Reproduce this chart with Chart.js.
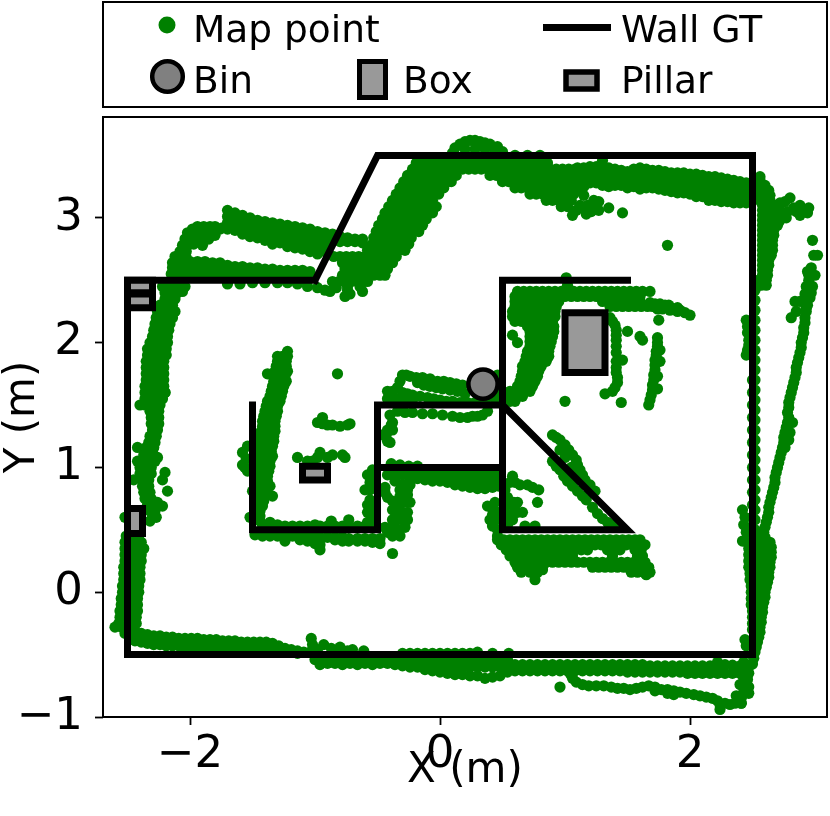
<!DOCTYPE html>
<html>
<head>
<meta charset="utf-8">
<style>html,body{margin:0;padding:0;background:#fff}canvas{display:block}</style>
<script src="https://cdn.jsdelivr.net/npm/chart.js@4/dist/chart.umd.min.js"></script>
</head>
<body>
<canvas id="c" width="830" height="816"></canvas>
<script>
// ---- Tick labels and axis titles
const xTicks = [-2, 0, 2];
const yTicks = [-1, 0, 1, 2, 3];
const xTitle = 'X (m)';
const yTitle = 'Y (m)';

// ---- Ground-truth geometry (metres)
const wallOuter = [[-1,2.5],[-0.5,3.5],[2.5,3.5],[2.5,-0.5],[-2.5,-0.5],[-2.5,2.5],[-1,2.5]];
const wallInner = [[-1.5,1.5],[-1.5,0.5],[-0.5,0.5],[-0.5,1.5],[0.5,1.5]];
const wallBar = [[-0.5,1],[0.5,1]];
const wallRoom = [[1.5,2.5],[0.5,2.5],[0.5,0.5],[1.5,0.5],[0.5,1.5]];
const binCentre = [[0.344,1.668]];
const boxShape = [[1,1.76],[1.32,1.76],[1.32,2.24],[1,2.24],[1,1.76]];
const pillarA = [[-2.5,2.4],[-2.3,2.4],[-2.3,2.5],[-2.5,2.5],[-2.5,2.4]];
const pillarB = [[-2.5,2.28],[-2.3,2.28],[-2.3,2.39],[-2.5,2.39],[-2.5,2.28]];
const pillarC = [[-2.5,0.47],[-2.38,0.47],[-2.38,0.67],[-2.5,0.67],[-2.5,0.47]];
const pillarD = [[-1.1,0.9],[-0.9,0.9],[-0.9,1.01],[-1.1,1.01],[-1.1,0.9]];

// ---- Map points.
// rows are [y, x, x, ...]; cols are [x, y, y, ...]; spots are [x, y].
const rowsLeftUpper = [
[2.45,-2.22,-2.17,-2.12,-2.07,-2.04],[2.4,-2.2,-2.15,-2.1],[2.35,-2.2,-2.16,-2.12],[2.3,-2.24,-2.19,-2.14],[2.25,-2.26,-2.21,-2.16,-2.12],
[2.2,-2.27,-2.22,-2.17,-2.14],[2.15,-2.28,-2.23,-2.18,-2.16],[2.1,-2.29,-2.24,-2.19,-2.17],[2.05,-2.3,-2.25,-2.2,-2.18],[2,-2.32,-2.27,-2.22,-2.18],
[1.95,-2.34,-2.29,-2.24,-2.19],[1.9,-2.34,-2.29,-2.24,-2.19],[1.85,-2.35,-2.3,-2.25,-2.21],[1.8,-2.35,-2.3,-2.25,-2.21],[1.75,-2.35,-2.3,-2.25,-2.21],
[1.7,-2.35,-2.3,-2.25,-2.21],[1.65,-2.36,-2.31,-2.26,-2.21],[1.6,-2.36,-2.31,-2.26,-2.2],[1.55,-2.36,-2.31,-2.26,-2.22],[1.5,-2.4,-2.36,-2.31,-2.26,-2.24],
[1.45,-2.32,-2.28,-2.25],[1.4,-2.31,-2.28,-2.25],[1.35,-2.31,-2.25],[1.3,-2.3,-2.26],[1.25,-2.32,-2.27],[1.2,-2.33,-2.28],[1.16,-2.42,-2.35,-2.29],
[1.1,-2.37,-2.33,-2.29],[1.05,-2.42,-2.38,-2.33,-2.28],[1,-2.4,-2.36,-2.31],[0.95,-2.4,-2.36,-2.31],[0.9,-2.45,-2.38,-2.33],[0.85,-2.38,-2.33],
[0.8,-2.37,-2.32],[0.75,-2.36,-2.31],[0.7,-2.34,-2.29],[0.65,-2.32,-2.28],[0.6,-2.3,-2.27]];
const spotsLeftUpper = [[-2.2,1.6],[-2.26,1.08],[-2.2,0.96],[-2.22,0.9],[-2.18,0.81],[-2.22,0.69],[-2.26,0.72],[-2.32,0.57],[-2.52,0.6]];
const rowsLeftLower = [
[0.45,-2.51,-2.46,-2.41],[0.4,-2.52,-2.46,-2.39],[0.35,-2.52,-2.46,-2.41,-2.37],[0.3,-2.52,-2.46,-2.39],[0.25,-2.52,-2.46,-2.39],[0.2,-2.53,-2.46,-2.4],
[0.15,-2.53,-2.46,-2.4],[0.1,-2.53,-2.46,-2.4],[0.05,-2.54,-2.47,-2.41],[0,-2.54,-2.47,-2.41],[-0.05,-2.55,-2.47,-2.42],[-0.1,-2.55,-2.47,-2.42],
[-0.15,-2.56,-2.47,-2.42],[-0.2,-2.56,-2.47,-2.43],[-0.25,-2.57,-2.47,-2.43],[-0.28,-2.6,-2.55],[-0.33,-2.52]];
const colsBottomLeft = [
[-2.44,-0.31,-0.35,-0.39],[-2.39,-0.33,-0.37,-0.4],[-2.34,-0.34,-0.38,-0.41],[-2.29,-0.35,-0.39,-0.42],[-2.24,-0.35,-0.39,-0.42],[-2.19,-0.36,-0.4,-0.43],
[-2.14,-0.36,-0.4,-0.43],[-2.09,-0.37,-0.41,-0.43],[-2.04,-0.37,-0.41,-0.44],[-1.99,-0.37,-0.41,-0.44],[-1.94,-0.37,-0.41,-0.44],[-1.89,-0.38,-0.42,-0.45],
[-1.84,-0.38,-0.42,-0.45],[-1.79,-0.38,-0.42,-0.45],[-1.74,-0.39,-0.43,-0.46],[-1.69,-0.39,-0.43,-0.46],[-1.64,-0.39,-0.43,-0.46],[-1.59,-0.4,-0.44,-0.47],
[-1.54,-0.4,-0.44,-0.47],[-1.49,-0.4,-0.44,-0.47],[-1.44,-0.4,-0.44,-0.47],[-1.39,-0.4,-0.44,-0.47],[-1.34,-0.41,-0.45,-0.48],[-1.29,-0.43,-0.47],
[-1.24,-0.45,-0.48],[-1.19,-0.46,-0.48],[-1.14,-0.47,-0.49],[-1.09,-0.48],[-1.04,-0.48]];
const spotsBottomMid = [[-1.03,-0.37],[-1.02,-0.42],[-0.93,-0.42],[-0.98,-0.46],[-0.87,-0.45],[-0.8,-0.44],[-0.74,-0.47],[-0.7,-0.46],[-0.61,-0.47],
[-0.3,-0.49],[-0.24,-0.49],[-0.18,-0.49],[-0.12,-0.49],[-0.06,-0.49],[0,-0.49],[0.06,-0.49],[0.12,-0.49],[0.18,-0.49],[0.24,-0.49],[0.3,-0.48],[0.42,-0.49],[0.55,-0.49]];
const colsBelowWall = [
[-1,-0.54],[-0.96,-0.54,-0.58],[-0.9,-0.54,-0.57],[-0.84,-0.54,-0.57],[-0.78,-0.54,-0.58],[-0.72,-0.54,-0.57],[-0.66,-0.54,-0.58],[-0.6,-0.54,-0.57],[-0.54,-0.54,-0.58],
[-0.48,-0.54,-0.57],[-0.42,-0.54,-0.57],[-0.36,-0.54,-0.58],[-0.3,-0.54,-0.59],[-0.24,-0.54,-0.6],[-0.18,-0.54,-0.6],[-0.12,-0.54,-0.58,-0.62],[-0.06,-0.54,-0.59,-0.63],
[0,-0.54,-0.59,-0.64],[0.06,-0.54,-0.6,-0.65],[0.12,-0.54,-0.6,-0.66],[0.18,-0.54,-0.6,-0.66],[0.24,-0.54,-0.6,-0.67],[0.3,-0.54,-0.6,-0.67],[0.36,-0.54,-0.6,-0.69],
[0.42,-0.54,-0.6,-0.68],[0.48,-0.54,-0.6,-0.67],[0.54,-0.54,-0.59,-0.64]];
const colsBottomRight = [
[0.6,-0.58,-0.63],[0.66,-0.58,-0.63],[0.72,-0.58,-0.63],[0.78,-0.58,-0.63],[0.84,-0.58,-0.63],[0.9,-0.58,-0.63],[0.96,-0.58,-0.63],[1.02,-0.58,-0.63],[1.08,-0.58,-0.63],
[1.14,-0.58,-0.63],[1.2,-0.58,-0.63],[1.26,-0.58,-0.63],[1.32,-0.58,-0.63],[1.38,-0.58,-0.63],[1.44,-0.58,-0.63],[1.5,-0.58,-0.64],[1.56,-0.58,-0.64],[1.62,-0.58,-0.64],
[1.68,-0.59,-0.64],[1.74,-0.59,-0.64],[1.8,-0.59,-0.64],[1.86,-0.59,-0.64],[1.92,-0.59,-0.64],[1.98,-0.59,-0.65],[2.04,-0.59,-0.65],[2.1,-0.59,-0.65],[2.16,-0.59,-0.65],
[2.22,-0.56,-0.6,-0.65],[2.28,-0.58,-0.65],[2.34,-0.585,-0.65],[2.4,-0.59,-0.65]];
const spotsBottomCorner = [[2.43,-0.56],[2.43,-0.6],[2.43,-0.64],[2.47,-0.65],[2.5,-0.575],[2.47,-0.6],[2.46,-0.7],[2.43,-0.69],[2.4,-0.74],[2.44,-0.75],[2.47,-0.76],[2.47,-0.81],[2.43,-0.8],[2.41,-0.85],[2.41,-0.89],[2.37,-0.83]];
const spotsLowerBranch = [[0.96,-0.76],[1.04,-0.65],[1.06,-0.69],[1.09,-0.72],[1.14,-0.74],[1.19,-0.75],[1.25,-0.75],[1.31,-0.75],[1.37,-0.76],[1.42,-0.77],[1.47,-0.77],[1.52,-0.78],[1.57,-0.77],
[1.62,-0.76],[1.67,-0.75],[1.72,-0.76],[1.72,-0.79],[1.77,-0.78],[1.82,-0.78],[1.82,-0.81],[1.87,-0.79],[1.87,-0.82],[1.92,-0.8],[1.97,-0.81],[2.03,-0.82],[2.08,-0.83],[2.13,-0.84],
[2.18,-0.85],[2.22,-0.87],[2.24,-0.9],[2.24,-0.94],[2.28,-0.89],[2.32,-0.9],[2.36,-0.89],[2.41,-0.89]];
const spotsRightWall = [[2.44,-0.38],[2.45,-0.43],[2.5,-0.3],[2.5,-0.2],[2.49,-0.1],[2.49,0],[2.48,0.1],[2.47,0.2],[2.47,0.3],[2.46,0.4],[2.5,-0.25],[2.5,-0.15],[2.49,-0.05],[2.49,0.05],[2.48,0.15],[2.47,0.25],[2.47,0.35],
[2.42,0.66],[2.43,0.54],[2.42,0.41],[2.44,0.6],[2.45,0.48],[2.5,0.5],[2.5,0.6],[2.5,0.7],[2.5,0.8],[2.5,0.9],[2.5,1],[2.5,1.1],[2.5,1.2],[2.5,1.3],
[2.5,1.4],[2.5,1.5],[2.5,1.6],[2.5,1.7],[2.45,2.18],[2.46,2.08],[2.46,1.94],[2.45,1.9],[2.46,2.13],[2.47,2.02],[2.47,1.98]];
const spotsRightStrip = [[2.52,-0.3],[2.52,-0.22],[2.52,-0.14],[2.52,-0.06],[2.52,0.02],[2.52,0.1],[2.52,0.18],[2.52,0.26],[2.52,0.34],
[2.52,0.42],[2.52,0.5],[2.52,0.58],[2.52,0.66],[2.52,0.74],[2.52,0.82],[2.52,0.9],[2.52,0.98],[2.52,1.06],[2.52,1.14],[2.52,1.22],
[2.52,1.3],[2.52,1.38],[2.52,1.46],[2.52,1.54],[2.52,1.62],[2.52,1.7],[2.52,1.78],[2.52,1.86],[2.52,1.94],[2.52,2.02],[2.52,2.1],
[2.52,2.18],[2.52,2.26],[2.52,2.34],[2.52,2.42],[2.52,2.5]];
const rowsRightThick = [
[0.48,2.56,2.59],[0.44,2.56,2.6],[0.4,2.56,2.6,2.64],[0.36,2.56,2.6,2.65],[0.32,2.56,2.6,2.65],[0.28,2.56,2.6,2.65],[0.24,2.56,2.6,2.64],[0.2,2.56,2.6,2.64],[0.16,2.56,2.6,2.63],
[0.12,2.56,2.6,2.63],[0.08,2.56,2.6,2.62],[0.04,2.56,2.6,2.61],[0,2.56,2.6],[-0.04,2.56,2.6],[-0.08,2.56,2.59],[-0.12,2.56,2.58],[-0.16,2.56,2.58],[-0.2,2.55,2.57],[-0.24,2.55,2.57],
[-0.28,2.56],[-0.32,2.56],[-0.36,2.55],[-0.4,2.54],[-0.44,2.53],[-0.48,2.52],[-0.53,2.51]];
const spotsRightLine = [[2.6,0.52],[2.61,0.56],[2.62,0.6],[2.63,0.64],[2.63,0.68],[2.64,0.72],[2.65,0.76],[2.66,0.8],[2.67,0.84],[2.68,0.88],[2.68,0.92],[2.69,0.96],[2.7,1],[2.71,1.04],[2.72,1.08],[2.73,1.12],[2.74,1.16],
[2.75,1.2],[2.75,1.24],[2.76,1.28],[2.77,1.32],[2.78,1.36],[2.79,1.4],[2.82,1.36],[2.8,1.28],[2.76,1.16],[2.79,1.22],[2.78,1.44],[2.79,1.48],[2.79,1.52],[2.8,1.56],[2.81,1.6],[2.82,1.64],[2.83,1.68],[2.84,1.72],[2.85,1.76],
[2.85,1.8],[2.86,1.84],[2.87,1.88],[2.88,1.92],[2.89,1.96],[2.89,2],[2.9,2.04],[2.91,2.08],[2.91,2.12],[2.92,2.16],[2.92,2.2],[2.93,2.25],[2.94,2.3],[2.96,2.36],[2.98,2.45],[2.93,2.45],
[2.92,2.39],[2.97,2.4],[2.95,2.5],[2.95,2.54],[3,2.54],[2.97,2.6],[2.94,2.57],[2.99,2.7],[3.02,2.7],[2.98,2.82],[2.84,2.33],[2.88,2.33],[2.85,2.25],[2.81,2.2],[2.93,2.28]];
const rowsRightUpper = [
[2.46,2.57,2.61],[2.5,2.57,2.61],[2.54,2.58,2.62],[2.58,2.58,2.62],[2.62,2.58,2.63],[2.66,2.58,2.63],[2.7,2.58,2.62,2.65],[2.74,2.58,2.62,2.66],[2.78,2.58,2.62,2.66],[2.82,2.58,2.62,2.66],
[2.86,2.58,2.62,2.67],[2.9,2.58,2.62,2.67],[2.94,2.58,2.62,2.67,2.7],[2.98,2.58,2.62,2.67,2.72],[3.02,2.58,2.62,2.67,2.72],[3.06,2.58,2.62,2.67,2.72],[3.1,2.58,2.62,2.67,2.7],
[3.14,2.56,2.6,2.64],[3.18,2.56,2.6,2.64],[3.22,2.56,2.6,2.63],[3.26,2.56,2.6],[3.3,2.56],[3.33,2.56]];
const spotsRightCorner = [[2.72,3.12],[2.8,3.16],[2.88,3.1],[2.95,3.08],[2.78,3.05],[2.77,3],[2.88,3.02],[2.94,3.04],[2.83,3.08],[2.76,3.13],[2.91,3.06],[2.85,3.05]];
const colsTopBand = [
[1.1,3.4,3.35,3.3,3.25],[1.15,3.4,3.35,3.3,3.25],[1.2,3.41,3.36,3.31,3.28],[1.25,3.41,3.36,3.31,3.28],[1.3,3.46,3.41,3.36,3.31,3.26],[1.35,3.4,3.35,3.3,3.25],[1.4,3.39,3.34,3.29,3.26],
[1.45,3.38,3.33,3.28,3.26],[1.5,3.37,3.32,3.27,3.24],[1.55,3.39,3.34,3.29,3.25],[1.6,3.4,3.35,3.3,3.26,3.23],[1.65,3.39,3.34,3.29,3.24],[1.7,3.38,3.33,3.28,3.24],[1.75,3.38,3.33,3.28,3.23],
[1.8,3.37,3.32,3.27,3.22],[1.85,3.36,3.31,3.26,3.21],[1.9,3.36,3.31,3.26,3.2],[1.95,3.36,3.31,3.26,3.2],[2,3.35,3.3,3.25,3.19],[2.05,3.35,3.3,3.25,3.2,3.17],[2.1,3.34,3.29,3.24,3.19,3.17],
[2.15,3.33,3.28,3.23,3.18,3.14],[2.2,3.33,3.28,3.23,3.18,3.14],[2.25,3.32,3.27,3.22,3.17,3.13],[2.3,3.31,3.26,3.21,3.16,3.13],[2.35,3.3,3.25,3.2,3.15,3.12],[2.4,3.29,3.24,3.19,3.14,3.12],[2.45,3.28,3.23,3.18,3.14,3.12]];
const spotsTopBandLow = [[1.06,3.02],[1.21,3.05],[1.17,3.03],[1.27,3.06],[1.12,3.1],[1.23,3.14],[1.27,3.13],[1.15,3.18],[1.35,3.08],[1.46,3.04],[1.82,2.78],[1.18,3.1],[1.09,3.06],[1.15,3.07],[1.25,3.1]];
const spotsHump = [[0.1,3.52],[0.16,3.59],[0.2,3.61],[0.24,3.62],[0.28,3.62],[0.32,3.61],[0.36,3.6],[0.4,3.59],[0.46,3.57],[0.5,3.53],[0.12,3.56],[0.2,3.55],[0.28,3.55],[0.36,3.55],[0.44,3.53],[0.6,3.5],[0.7,3.5],[0.8,3.5]];
const rowsDiagonal = [
[3.44,-0.19,-0.14,-0.09,-0.04,0.01,0.06,0.11,0.16,0.21,0.26,0.31,0.36,0.41,0.46,0.51,0.56,0.61,0.66,0.71,0.76,0.81,0.86],
[3.39,-0.22,-0.17,-0.12,-0.07,-0.02,0.03,0.08,0.13,0.18,0.23,0.28,0.33,0.38,0.43,0.48,0.53,0.58,0.63,0.68,0.73,0.78,0.83,0.88,0.93,0.98,1.03,1.08],
[3.34,-0.26,-0.21,-0.16,-0.11,-0.06,-0.01,0.04,0.09,0.13,0.4,0.45,0.5,0.55,0.6,0.65,0.7,0.75,0.8,0.85,0.9,0.95,1,1.05,1.1],
[3.29,-0.29,-0.24,-0.19,-0.14,-0.09,-0.04,0.01,0.06,0.09,0.5,0.55,0.6,0.65,0.7,0.75,0.8,0.85,0.9,0.95,1,1.05,1.1],
[3.24,-0.32,-0.27,-0.22,-0.17,-0.12,-0.07,-0.02,0.03,0.6,0.65,0.7,0.75,0.8,0.85,0.9,0.95,1,1.05,1.12],
[3.19,-0.35,-0.3,-0.25,-0.2,-0.15,-0.1,-0.05,-0.01,0.72,0.77,0.82,0.87,0.92,0.97,1.02,1.07],
[3.14,-0.38,-0.33,-0.28,-0.23,-0.18,-0.13,-0.08,-0.06,0.85,0.9,0.95,1,1.05],
[3.09,-0.41,-0.36,-0.31,-0.26,-0.21,-0.16,-0.11,-0.06,-0.03,0.97,1.02],
[3.04,-0.44,-0.39,-0.34,-0.29,-0.24,-0.19,-0.14,-0.09,-0.06],
[2.99,-0.46,-0.41,-0.36,-0.31,-0.26,-0.21,-0.16,-0.11],
[2.94,-0.49,-0.44,-0.39,-0.34,-0.29,-0.24,-0.19,-0.14],
[2.89,-0.51,-0.46,-0.41,-0.36,-0.31,-0.26,-0.21,-0.17],
[2.84,-0.53,-0.48,-0.43,-0.38,-0.33,-0.28,-0.23],
[2.79,-0.54,-0.49,-0.44,-0.39,-0.34,-0.29,-0.25],
[2.74,-0.58,-0.53,-0.48,-0.43,-0.38,-0.33,-0.28],
[2.69,-0.85,-0.8,-0.75,-0.7,-0.65,-0.6,-0.55,-0.5,-0.45,-0.4,-0.35],
[2.64,-0.78,-0.73,-0.68,-0.63,-0.58,-0.53,-0.48,-0.43,-0.38],
[2.59,-0.76,-0.71,-0.66,-0.61,-0.56,-0.51,-0.46,-0.42],
[2.54,-0.78,-0.73,-0.68,-0.63,-0.58,-0.53,-0.48,-0.44],
[2.49,-0.86,-0.81,-0.76,-0.71,-0.66,-0.61,-0.58]];
const spotsDiagonalFoot = [[-0.62,2.41],[-0.74,2.42],[-0.76,2.37],[-0.88,2.41],[-0.64,2.45],[-0.74,2.45],[-0.83,2.44],[-0.72,2.39]];
const colsLoopUpper = [
[-1.74,2.92],[-1.7,3.06,3.01,2.96,2.91],[-1.64,3.04,2.99,2.94,2.9],[-1.58,3.02,2.97,2.92,2.87],[-1.52,3,2.95,2.9,2.85],[-1.46,2.98,2.93,2.88,2.84],[-1.4,2.97,2.92,2.87,2.82],
[-1.34,2.96,2.91,2.86,2.81,2.79],[-1.28,2.95,2.9,2.85,2.8],[-1.22,2.94,2.89,2.84,2.79,2.77],[-1.16,2.93,2.88,2.83,2.78,2.76],[-1.1,2.92,2.87,2.82,2.77,2.75],
[-1.04,2.91,2.86,2.81,2.76,2.73],[-0.98,2.89,2.84,2.79,2.74,2.71],[-0.92,2.88,2.83,2.78,2.73],[-0.86,2.87,2.82],[-0.8,2.85,2.81],[-0.74,2.84,2.81],[-0.68,2.83,2.81],[-0.62,2.83,2.8]];
const spotsLoopLeft = [[-2.02,2.88],[-1.98,2.91],[-1.94,2.93],[-1.89,2.93],[-1.84,2.93],[-1.8,2.93],[-1.76,2.91],[-1.8,2.86],[-1.85,2.88],[-1.9,2.88],[-1.95,2.88],[-2,2.84],[-1.95,2.83],[-1.9,2.83],[-1.85,2.83],[-1.9,2.78],
[-2.04,2.83],[-2.06,2.78],[-2.02,2.78],[-1.97,2.79],[-2.08,2.73],[-2.03,2.73],[-2.12,2.69],[-2.08,2.68],[-2.03,2.68],[-2.14,2.64],[-2.09,2.64],[-2.14,2.6],[-2.09,2.6],[-2.05,2.6],[-2.15,2.55],[-2.1,2.55],[-2.05,2.55]];
const colsLoopLower = [
[-2,2.65,2.6,2.55],[-1.94,2.65,2.6,2.55],[-1.88,2.65,2.6,2.54],[-1.82,2.64,2.59,2.54],[-1.76,2.64,2.59,2.54],[-1.7,2.62,2.57,2.53],[-1.64,2.61,2.56,2.53],[-1.58,2.61,2.56,2.53],[-1.52,2.6,2.55,2.53],
[-1.46,2.6,2.55,2.53],[-1.4,2.59,2.54],[-1.34,2.59,2.54],[-1.28,2.58,2.53],[-1.22,2.58,2.53],[-1.16,2.58,2.53],[-1.1,2.58,2.53],[-1.04,2.57,2.53]];
const spotsBelowLoop = [[-2.06,2.41],[-1.7,2.47],[-1.6,2.47],[-1.5,2.48],[-1.4,2.48],[-1.3,2.48],[-1.22,2.48],[-1.14,2.47],[-1.06,2.45],[-0.98,2.44],[-0.92,2.42]];
const rowsInnerLeft = [
[1.93,-1.22],[1.89,-1.3,-1.26,-1.22],[1.85,-1.3,-1.26,-1.23],[1.81,-1.31,-1.26,-1.23],[1.77,-1.32,-1.27,-1.22],[1.73,-1.33,-1.28,-1.24],[1.69,-1.33,-1.28,-1.23],[1.65,-1.34,-1.29,-1.25],[1.61,-1.35,-1.3,-1.26],
[1.57,-1.36,-1.31,-1.27],[1.53,-1.38,-1.33,-1.28],[1.49,-1.39,-1.34,-1.3],[1.45,-1.4,-1.35,-1.3],[1.41,-1.41,-1.36,-1.31],[1.37,-1.42,-1.37,-1.32],[1.33,-1.42,-1.37,-1.32],[1.29,-1.43,-1.38,-1.32],
[1.25,-1.44,-1.39,-1.33],[1.21,-1.44,-1.39,-1.33],[1.17,-1.44,-1.39,-1.34],[1.13,-1.44,-1.39,-1.35],[1.09,-1.44,-1.39,-1.34],[1.05,-1.44,-1.39,-1.36],[1.01,-1.44,-1.39,-1.36],[0.97,-1.44,-1.4,-1.37],
[0.93,-1.44,-1.4,-1.38],[0.89,-1.44,-1.4,-1.38],[0.85,-1.44,-1.4,-1.36],[0.81,-1.44,-1.4],[0.77,-1.44,-1.41,-1.34],[0.73,-1.44,-1.41],[0.69,-1.44,-1.42],[0.65,-1.44],[0.61,-1.44],[0.57,-1.44]];
const spotsInnerLeft = [[-1.38,1.75],[-1.54,1.17],[-1.58,1.12],[-1.58,1.02],[-1.54,0.97],[-1.5,0.81],[-1.52,0.6],[-1.55,1.07],[-1.56,1]];
const colsInnerBottom = [
[-1.48,0.46],[-1.42,0.54,0.45],[-1.36,0.56,0.45],[-1.3,0.54,0.45],[-1.24,0.53,0.46,0.41],[-1.18,0.53,0.45],[-1.12,0.53,0.45,0.42],[-1.06,0.53,0.45,0.41],[-1,0.54,0.44,0.39],[-0.96,0.53,0.44,0.34,0.38],
[-0.9,0.53,0.44],[-0.87,0.57,0.53],[-0.84,0.53,0.44,0.42],[-0.78,0.53,0.44,0.41],[-0.73,0.58,0.53,0.43,0.41],[-0.66,0.53,0.43,0.41],[-0.6,0.53,0.43,0.41],[-0.54,0.53,0.43,0.4],[-0.48,0.43,0.39]];
const spotsInnerSide = [[-0.38,0.31],[-0.58,0.94],[-0.54,0.98],[-0.56,0.88],[-0.6,0.82],[-0.56,0.82],[-0.56,0.74],[-0.58,0.7],[-0.58,0.64],[-0.54,0.68],[-0.58,0.56],[-0.54,0.58],[-0.54,0.63],[-0.54,0.9],
[-0.42,1.21],[-0.46,1.26],[-0.38,1.36],[-0.4,1.42],[-0.39,1.34],[-0.43,1.26],[-0.4,1.2],[-0.38,1.3],[-0.42,1.3],[-0.39,1.03],[-0.32,1.02],[-0.25,1.01],[-0.18,1.01],
[-0.3,0.86],[-0.24,0.86],[-0.26,0.78],[-0.26,0.82],[-0.32,0.77],[-0.32,0.82],[-0.38,0.73],[-0.24,0.72],[-0.29,0.72],[-0.34,0.7],[-0.42,0.76],[-0.44,0.84],[-0.44,0.8],[-0.38,0.66],[-0.3,0.64],[-0.34,0.64],[-0.26,0.64],[-0.26,0.58],[-0.3,0.58],[-0.34,0.58],
[-0.38,0.58],[-0.28,0.52],[-0.34,0.5],[-0.42,0.48],[-0.44,0.52],[-0.38,0.45],[-0.32,0.45],[-0.38,0.52]];
const colsUnderBar = [
[-0.42,0.94],[-0.36,0.94,0.89],[-0.3,0.94],[-0.24,0.94,0.9],[-0.18,0.94,0.91],[-0.12,0.94,0.9],[-0.06,0.94,0.89],[0,0.94,0.89],[0.06,0.94,0.88],[0.12,0.94,0.89,0.86],[0.18,0.94,0.89,0.85],
[0.24,0.94,0.89,0.84],[0.3,0.94,0.89,0.83],[0.36,0.94,0.89,0.83],[0.42,0.94,0.89,0.84],[0.47,0.94,0.89,0.85]];
const spotsSideRoom = [[0.38,0.69],[0.44,0.72],[0.42,0.67],[0.46,0.64],[0.4,0.58],[0.45,0.58],[0.42,0.53],[0.46,0.45],[0.46,0.5],[0.42,0.62],
[0.58,0.93],[0.64,0.86],[0.7,0.86],[0.79,0.82],[0.74,0.84],[0.62,0.72],[0.78,0.72],[0.66,0.64],[0.58,0.58],[0.52,0.82],[0.54,0.7],[0.54,0.62],[0.54,0.54],[0.62,0.64],[0.68,0.53],[0.76,0.53],[0.56,0.88],[0.6,0.88],[0.54,0.76],[0.6,0.66],[0.59,0.72]];
const rowsBelowRoom = [
[0.42,0.46,0.51,0.56,0.61,0.66,0.71,0.76,0.81,0.86,0.91,0.96,1.01,1.06,1.11,1.16,1.21,1.26,1.31,1.36,1.41,1.46,1.51,1.56,1.6],
[0.38,0.49,0.54,0.59,0.64,0.69,0.74,0.79,0.84,0.89,0.94,0.99,1.04,1.09,1.14,1.19,1.24,1.29,1.34,1.39,1.44,1.49,1.54,1.59,1.64],
[0.34,0.53,0.58,0.63,0.68,0.73,0.78,0.83,0.88,0.93,0.98,1.03,1.08,1.13,1.18,1.34,1.39,1.44,1.56,1.61],
[0.29,0.56,0.61,0.66,0.71,0.76,0.81,0.86,0.91,0.96,1.01,1.06,1.38,1.58,1.62],
[0.24,0.6,0.65,0.7,0.75,0.8,0.85,0.9,0.95,1,1.05,1.1,1.15,1.2,1.25,1.3,1.35,1.4,1.45,1.5,1.55,1.6,1.64],
[0.2,0.62,0.67,0.72,0.77,0.82,1.22,1.27,1.32,1.37,1.42,1.47,1.52,1.57,1.62,1.67],
[0.16,0.65,0.72,0.78,1.53,1.58,1.63,1.68]];
const spotsBelowRoom = [[0.76,0.1],[0.82,0.18],[1.65,0.14]];
const spotsTriangle = [[0.9,1.26],[0.93,1.24],[0.96,1.22],[1,1.18],[1.03,1.14],[1.06,1.1],[1.09,1.06],[1.1,1.02],[1.12,0.98],[1.14,0.94],[1.16,0.9],[1.2,0.86],[1.24,0.81],
[0.9,1.05],[0.93,1.01],[0.96,0.98],[0.99,0.93],[1.02,0.89],[1.06,0.85],[1.1,0.81],[1.14,0.77],[1.17,0.74],[1.22,0.68],[1.26,0.63],[1.3,0.59],[1.34,0.56],[1.38,0.54],[1.42,0.53],
[0.96,1.14],[1,1.08],[1.05,1],[1.08,0.92]];
const spotsAroundBin = [[-0.3,1.74],[-0.27,1.74],[-0.24,1.73],[-0.19,1.72],[-0.14,1.72],[-0.08,1.71],[-0.02,1.69],[0.03,1.69],[0.08,1.68],[0.13,1.67],[0.18,1.66],[-0.32,1.69],
[-0.42,1.61],[-0.38,1.61],[-0.34,1.64],[-0.3,1.6],[-0.26,1.59],[-0.22,1.58],[-0.16,1.57],[-0.1,1.56],[-0.05,1.55],[0,1.54],[0.05,1.53],[0.1,1.53],[0.16,1.52],[0.22,1.52],[0.28,1.52],
[-0.18,1.68],[-0.13,1.66],[-0.08,1.65],[-0.03,1.64],[0.02,1.63],[0.08,1.62],[0.14,1.61],[0.2,1.59],
[-0.42,1.55],[-0.38,1.55],[-0.34,1.55],[-0.28,1.55],[-0.22,1.54],[0.48,1.69],[0.46,1.74],[0.46,1.62],[0.44,1.55],[0.36,1.53],[0.42,1.6],
[-0.34,1.45],[-0.28,1.44],[-0.22,1.44],[-0.14,1.43],[-0.06,1.43],[0.02,1.42],[0.1,1.41],[0.16,1.4],[0.22,1.4],[0.26,1.41],[0.3,1.41],[0.34,1.42],[0.38,1.45]];
const rowsRoomTop = [
[2.41,0.62,0.67,0.72,0.77,0.82,0.87,0.92,0.97,1.02,1.07,1.12,1.17,1.22,1.27,1.32,1.37,1.42,1.47,1.52,1.57,1.62,1.68],
[2.37,0.6,0.65,0.7,0.75,0.8,0.85,0.9,0.95,1,1.05,1.1,1.15,1.2,1.25,1.3,1.35,1.4,1.45,1.5,1.55,1.6],
[2.33,0.6,0.65,0.7,0.75,0.8,0.85,0.9,0.95,1.3,1.35,1.4,1.45,1.5,1.55,1.6],
[2.29,0.6,0.65,0.7,0.75,0.8,0.85,0.9,0.93,1.36,1.41,1.46,1.51,1.56,1.61,1.66,1.7],
[2.25,0.58,0.63,0.68,0.73,0.78,0.83,0.88,0.92],[2.21,0.58,0.63,0.68,0.73,0.78,0.83,0.88,0.92],[2.17,0.6,0.65,0.7,0.75,0.8,0.85,0.9],[2.13,0.7,0.75,0.8,0.85,0.91],
[2.09,0.72,0.77,0.82,0.87,0.91],[2.05,0.72,0.77,0.82,0.87,0.9],[2.01,0.72,0.77,0.82,0.87,0.89],[1.97,0.72,0.77,0.82,0.88],[1.93,0.7,0.75,0.8,0.85,0.87],[1.89,0.69,0.74,0.79,0.84,0.87],[1.85,0.68,0.73,0.78,0.83,0.85],
[1.81,0.66,0.71,0.76,0.81],[1.77,0.66,0.71,0.76,0.79],[1.73,0.65,0.7,0.75,0.78],[1.69,0.64,0.69,0.74,0.76],[1.65,0.62,0.67,0.72,0.74],[1.61,0.56,0.62,0.67,0.72],[1.57,0.56,0.61,0.66],[1.53,0.56,0.6]];
const spotsRoomTop = [[1.02,2.46],[1.01,2.52],[1.68,2.32],[1.72,2.31],[1.76,2.31],[1.8,2.3],[1.83,2.3],[1.74,2.27],[1.78,2.27],[1.84,2.26],[1.88,2.27],[1.9,2.25],[1.92,2.26],[1.96,2.24],[2,2.22],[1.9,2.28],[0.58,2.06],[0.62,2]];
const spotsRoomRight = [[1.38,2.17],[1.41,2.1],[1.41,2.02],[1.41,1.92],[1.46,1.86],[1.41,1.85],[1.41,1.76],[1.42,1.68],[1.38,1.61],[1.32,1.59],[1.4,2.14],[1.41,2.06],[1.41,1.97],[1.41,1.8],[1.42,1.72],[1.4,1.64],[1.36,2.2],
[1.5,2.09],[1.6,2.05],[1.62,2.02],[1.75,2.18],[1.45,1.52],[1,1.53],
[1.74,2.04],[1.74,2],[1.74,1.97],[1.73,1.93],[1.73,1.9],[1.72,1.86],[1.72,1.82],[1.72,1.78],[1.71,1.74],[1.71,1.7],[1.7,1.66],[1.7,1.62],[1.69,1.58],[1.68,1.54],[1.67,1.5],[1.74,1.73],[1.74,1.63],[1.76,1.94],[1.76,1.85]];
const spotsMiddle = [[-0.82,1.75],[-0.98,1.36],[-0.94,1.4],[-0.94,1.35],[-0.9,1.34],[-0.86,1.34],[-0.8,1.33],[-0.74,1.34],[-0.72,1.35],[-1.14,1.08],[-1.06,1.05],[-0.96,1.12],[-0.98,1.08],[-0.86,1.1],[-0.9,1.08],[-0.78,1.1],[-0.76,1.08],[-1.02,1.05]];

const fromRows = rows => rows.flatMap(r => r.slice(1).map(x => [x, r[0]]));
const fromCols = cols => cols.flatMap(c => c.slice(1).map(y => [c[0], y]));
const mapPoints = [
  ...fromRows(rowsLeftUpper), ...spotsLeftUpper, ...fromRows(rowsLeftLower), ...fromCols(colsBottomLeft), ...spotsBottomMid,
  ...fromCols(colsBelowWall), ...fromCols(colsBottomRight), ...spotsBottomCorner, ...spotsLowerBranch, ...spotsRightWall, ...spotsRightStrip,
  ...fromRows(rowsRightThick), ...spotsRightLine, ...fromRows(rowsRightUpper), ...spotsRightCorner, ...fromCols(colsTopBand),
  ...spotsTopBandLow, ...spotsHump, ...fromRows(rowsDiagonal), ...spotsDiagonalFoot, ...fromCols(colsLoopUpper),
  ...spotsLoopLeft, ...fromCols(colsLoopLower), ...spotsBelowLoop, ...fromRows(rowsInnerLeft), ...spotsInnerLeft, ...fromCols(colsInnerBottom), ...spotsInnerSide,
  ...fromCols(colsUnderBar), ...spotsSideRoom, ...fromRows(rowsBelowRoom), ...spotsBelowRoom, ...spotsTriangle, ...spotsAroundBin,
  ...fromRows(rowsRoomTop), ...spotsRoomTop, ...spotsRoomRight, ...spotsMiddle
];

const xy = a => a.map(p => ({x: p[0], y: p[1]}));
const FONT = '"DejaVu Sans"';
const GREEN = '#008000', GREY = '#999999', BINGREY = '#808080';

const wallDs = pts => ({type:'scatter', label:'Wall GT', data:xy(pts), showLine:true, pointRadius:0, borderColor:'#000', backgroundColor:'#000',
  borderWidth:7, borderCapStyle:'square', borderJoinStyle:'miter', fill:false, order:2});
const rectDs = (pts, label) => ({type:'scatter', label, data:xy(pts), showLine:true, pointRadius:0, borderColor:'#000', backgroundColor:GREY,
  borderWidth:7, borderCapStyle:'square', borderJoinStyle:'miter', fill:'shape', order:1});

const legendBox = {
  id:'legendBox',
  afterDraw(chart){
    const c = chart.ctx, a = chart.chartArea;
    c.save();
    c.strokeStyle='#000'; c.lineWidth=2; c.strokeRect(a.left,a.top,a.right-a.left,a.bottom-a.top);
    c.strokeRect(103,2,724,105);
    c.fillStyle=GREEN; c.beginPath(); c.arc(167,25,8.5,0,Math.PI*2); c.fill();
    c.fillStyle='#000'; c.fillRect(543,24,68,7);
    c.lineWidth=4.5; c.fillStyle=BINGREY; c.beginPath(); c.arc(167.5,76.5,15.3,0,Math.PI*2); c.fill(); c.stroke();
    c.lineWidth=5; c.lineJoin='miter'; c.fillStyle=GREY;
    c.fillRect(359.5,61.5,26,36); c.strokeRect(359.5,61.5,26,36);
    c.lineWidth=5.5;
    c.fillRect(566,72,31,17); c.strokeRect(566,72,31,17);
    c.fillStyle='#000'; c.font='37.5px '+FONT; c.textAlign='left'; c.textBaseline='alphabetic';
    c.fillText('Map point',193,42);
    c.fillText('Wall GT',621,42);
    c.fillText('Bin',193,93);
    c.fillText('Box',403,93);
    c.fillText('Pillar',621,93);
    c.restore();
  }
};

new Chart(document.getElementById('c'), {
  type:'scatter',
  data:{datasets:[
    {label:'Bin', data:xy(binCentre), pointRadius:14.6, pointBorderWidth:4.5, pointBackgroundColor:BINGREY, pointBorderColor:'#000', order:0},
    rectDs(boxShape,'Box'), rectDs(pillarA,'Pillar'), rectDs(pillarB,'Pillar'), rectDs(pillarC,'Pillar'), rectDs(pillarD,'Pillar'),
    wallDs(wallOuter), wallDs(wallInner), wallDs(wallBar), wallDs(wallRoom),
    {label:'Map point', data:xy(mapPoints), pointRadius:5.6, pointBorderWidth:0, pointBackgroundColor:GREEN, pointBorderColor:GREEN, order:3}
  ]},
  options:{
    responsive:false, animation:false, events:[],
    layout:{autoPadding:false,padding:{top:117,right:3,left:0,bottom:0}},
    plugins:{legend:{display:false},tooltip:{enabled:false},title:{display:false}},
    scales:{
      x:{type:'linear',min:-2.696,max:3.096,
        afterBuildTicks(s){s.ticks=xTicks.map(v=>({value:v}));},
        afterFit(s){s.height=99;},
        border:{display:false},
        grid:{drawOnChartArea:false,drawTicks:true,tickLength:8,tickWidth:1.8,tickColor:'#000'},
        ticks:{color:'#000',font:{family:FONT,size:45,lineHeight:1},padding:8,maxRotation:0,autoSkip:false,
          callback:v=>String(v).replace('-','\u2212')},
        title:{display:true,text:xTitle,color:'#000',font:{family:FONT,size:42,lineHeight:1},padding:{top:0,bottom:24}}
      },
      y:{type:'linear',min:-1,max:3.808,
        afterBuildTicks(s){s.ticks=yTicks.map(v=>({value:v}));},
        afterFit(s){s.width=103;},
        border:{display:false},
        grid:{drawOnChartArea:false,drawTicks:true,tickLength:8,tickWidth:1.8,tickColor:'#000'},
        ticks:{color:'#000',font:{family:FONT,size:45,lineHeight:1},padding:12,autoSkip:false,
          callback:v=>String(v).replace('-','\u2212')},
        title:{display:true,text:yTitle,color:'#000',font:{family:FONT,size:42,lineHeight:1},padding:{top:2,bottom:0}}
      }
    }
  },
  plugins:[legendBox]
});
</script>
</body>
</html>
